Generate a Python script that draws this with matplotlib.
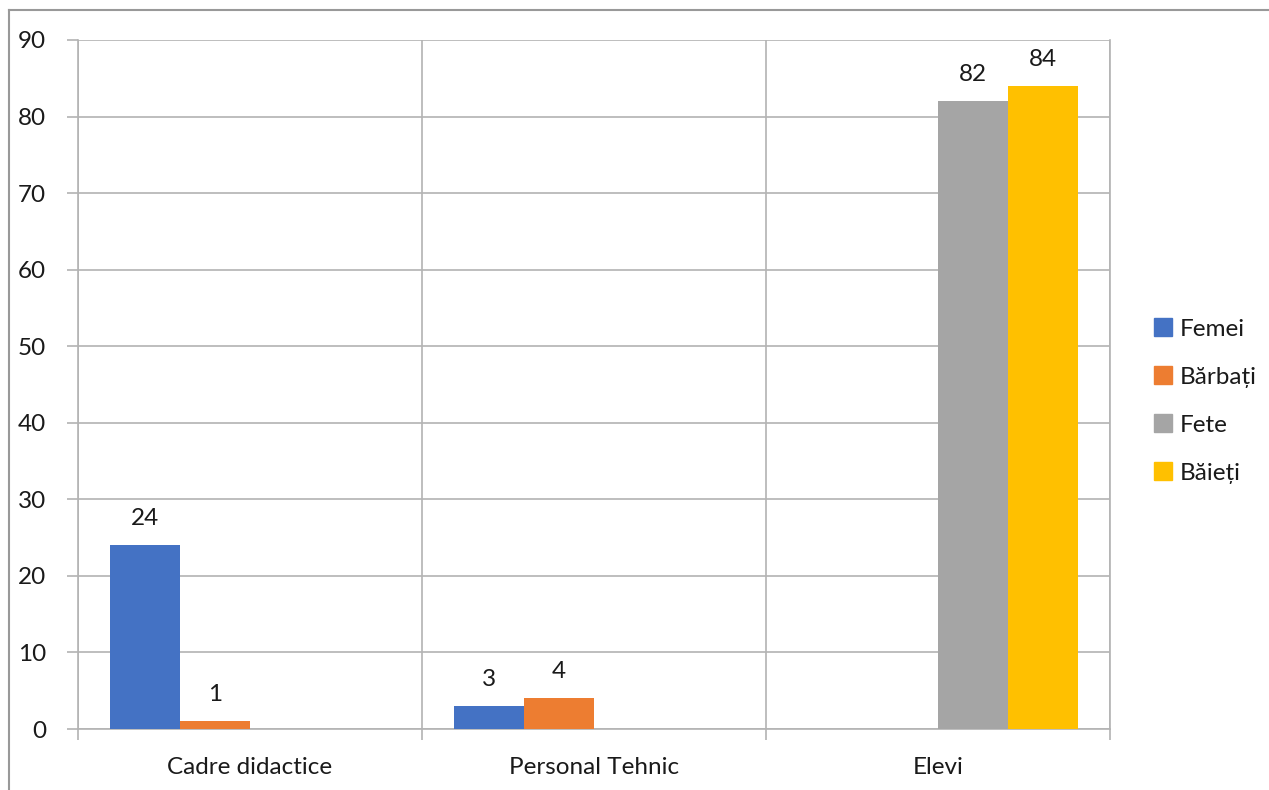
import numpy as np
import matplotlib.pyplot as plt
from matplotlib.lines import Line2D

categories = ["Cadre didactice", "Personal Tehnic", "Elevi"]
series = ["Femei", "Bărbați", "Fete", "Băieți"]
femei = [24, 3, 0]
barbati = [1, 4, 0]
fete = [0, 0, 82]
baieti = [0, 0, 84]
colors = ["#4472C4", "#ED7D31", "#A5A5A5", "#FFC000"]

plt.rcParams['font.family'] = ['Lato', 'DejaVu Sans']
grid_c = "#b3b3b3"
txt_c = "#1a1a1a"

fig = plt.figure(figsize=(12.69, 7.9), dpi=100)
ax = fig.add_axes([78/1269, 1-729/790, (1110-78)/1269, (729-40)/790])

x = np.arange(len(categories))
w = 70/344
vals = [femei, barbati, fete, baieti]
for i, (name, v) in enumerate(zip(series, vals)):
    pos = x + (i - 1.5) * w
    bars = ax.bar(pos, v, w, color=colors[i], label=name, zorder=3)
    for b, val in zip(bars, v):
        if val:
            ax.text(b.get_x() + w/2, val + 3.5, str(val), ha='center', va='center',
                    fontsize=17.5, color=txt_c)

ax.set_xlim(-0.5, 2.5)
ax.set_ylim(0, 90)
ax.set_yticks(range(0, 91, 10))
ax.set_xticks(x)
ax.set_xticklabels(categories)
ax.set_xticks([-0.5, 0.5, 1.5, 2.5], minor=True)
ax.tick_params(axis='x', which='major', length=0, pad=20, labelsize=17.5, labelcolor=txt_c)
ax.tick_params(axis='x', which='minor', length=8, color=grid_c, width=1.2)
ax.tick_params(axis='y', length=8, color=grid_c, width=1.2, pad=15, labelsize=17.5,
               labelcolor=txt_c)
ax.grid(axis='y', color=grid_c, lw=1.2, zorder=0)
ax.grid(axis='x', which='minor', color=grid_c, lw=1.2, zorder=0)
for s in ax.spines.values():
    s.set_color(grid_c)
    s.set_linewidth(1.2)
ax.spines['top'].set_visible(False)

handles = [plt.Rectangle((0, 0), 1, 1, color=c) for c in colors]
fig.legend(handles, series, loc='center left', bbox_to_anchor=(1132/1269, 1-401/790),
           frameon=False, fontsize=17.5, handlelength=0.75, handleheight=0.75,
           handletextpad=0.3, labelspacing=1.1, labelcolor=txt_c)

# outer chart border
fig.add_artist(Line2D([9/1269, 1], [1-10/790, 1-10/790], color='#999999', lw=1.5))
fig.add_artist(Line2D([9/1269, 9/1269], [0, 1-10/790], color='#999999', lw=1.5))

fig.savefig("out.png", dpi=100)
